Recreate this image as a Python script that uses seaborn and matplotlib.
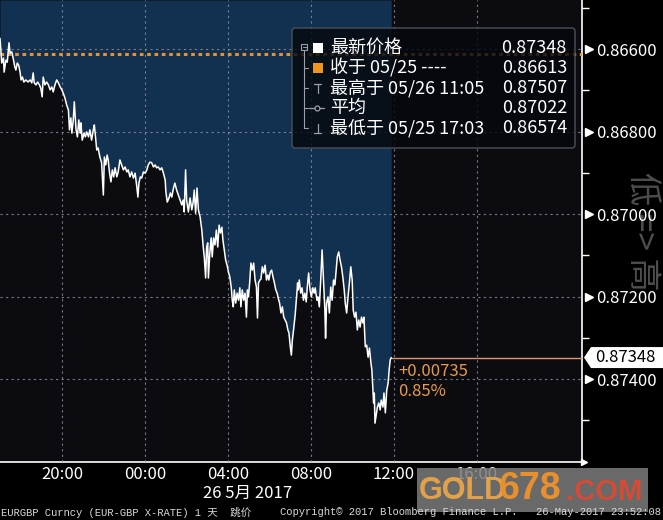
import numpy as np
import pandas as pd
import matplotlib
matplotlib.use("Agg")
import matplotlib.pyplot as plt
import matplotlib.transforms as mtransforms
from matplotlib.patches import FancyBboxPatch, Rectangle, Polygon
from matplotlib.lines import Line2D
import seaborn as sns

# ---------------- data (minutes since 25 May 17:00, EURGBP price) ----------------
minutes = [
    0, 5, 10, 12, 17, 21, 26, 29, 34, 38, 43, 46, 50, 54, 58, 61, 65, 69, 75, 81,
    87, 92, 96, 99, 104, 109, 114, 118, 122, 125, 130, 135, 140, 145, 150, 154, 159, 164, 169, 174,
    179, 183, 188, 193, 198, 201, 205, 208, 212, 215, 220, 224, 228, 232, 234, 238, 243, 247, 251, 256,
    260, 265, 270, 273,
    280, 284, 289, 294, 299, 302, 306, 310, 313, 317, 321, 325, 329, 333, 338, 342, 347, 352, 357, 362,
    367, 371, 376, 381, 386, 391, 396, 399, 402, 406, 410, 415, 420, 425, 429, 434, 439, 444, 449, 453,
    458, 463, 468, 473, 478, 480, 484, 489, 493, 497, 502, 506, 511, 516, 521, 526, 530, 533, 537, 540,
    545, 550, 555, 559, 562, 566, 570, 574, 579,
    584, 588, 591, 595, 598, 601, 603, 607, 611, 614, 618, 622, 626, 630, 634, 638, 642, 645, 649, 653,
    657, 661, 665, 669, 672, 675, 678, 682, 686, 690, 694, 697, 701, 705, 709, 713, 716, 719, 723, 726,
    730, 734, 738, 742, 745, 748, 752, 755, 759, 763, 767, 771, 775, 778, 782, 786, 790, 794, 798, 802,
    805, 809, 813, 817, 821, 825, 829, 833, 836, 840, 843,
    846, 849, 854, 859, 861, 863, 866, 870, 874, 878, 882, 886, 889, 893, 897, 901, 905, 909, 912, 917,
    920, 924, 928, 932, 936, 940, 942, 945, 949, 953, 957, 961, 965, 969, 972, 976, 980, 984, 988, 992,
    996, 999, 1003, 1007, 1011, 1015, 1019, 1022, 1026, 1030, 1034, 1038, 1042, 1046, 1050, 1053, 1057, 1061, 1065, 1069,
    1073, 1076, 1079, 1081, 1083, 1085, 1092, 1096, 1100, 1103, 1108, 1111, 1115, 1119, 1123, 1126, 1129, 1132,
]
prices = [
    0.86574, 0.86634, 0.86622, 0.86656, 0.86627, 0.86632, 0.86585, 0.86610, 0.86607, 0.86622,
    0.86644, 0.86651, 0.86634, 0.86639, 0.86656, 0.86675, 0.86668, 0.86680, 0.86675, 0.86680,
    0.86675, 0.86682, 0.86658, 0.86682, 0.86687, 0.86680, 0.86687, 0.86695, 0.86716, 0.86668,
    0.86687, 0.86680, 0.86687, 0.86699, 0.86692, 0.86704, 0.86687, 0.86675, 0.86682, 0.86692,
    0.86699, 0.86707, 0.86719, 0.86736, 0.86748, 0.86796, 0.86767, 0.86804, 0.86772, 0.86728,
    0.86796, 0.86813, 0.86772, 0.86804, 0.86779, 0.86821, 0.86804, 0.86813, 0.86801, 0.86813,
    0.86796, 0.86821, 0.86796, 0.86784,
    0.86845, 0.86840, 0.86862, 0.86876, 0.86954, 0.86862, 0.86881, 0.86857, 0.86869, 0.86901,
    0.86922, 0.86893, 0.86910, 0.86888, 0.86910, 0.86898, 0.86869, 0.86881, 0.86893, 0.86886,
    0.86898, 0.86893, 0.86910, 0.86898, 0.86913, 0.86901, 0.86935, 0.86959, 0.86925, 0.86910,
    0.86913, 0.86898, 0.86901, 0.86893, 0.86881, 0.86874, 0.86876, 0.86886, 0.86881, 0.86888,
    0.86886, 0.86893, 0.86888, 0.86901, 0.86918, 0.86947, 0.86971, 0.86961, 0.86949, 0.86959,
    0.86937, 0.86925, 0.86942, 0.86954, 0.86966, 0.86978, 0.86966, 0.86995, 0.86893, 0.86966,
    0.86995, 0.86961, 0.86990, 0.86971, 0.86942, 0.86998, 0.86937, 0.86990, 0.87007,
    0.87039, 0.87080, 0.87104, 0.87155, 0.87080, 0.87070, 0.87155, 0.87095, 0.87058, 0.87104,
    0.87058, 0.87075, 0.87039, 0.87080, 0.87027, 0.87046, 0.87032, 0.87063, 0.87087, 0.87112,
    0.87124, 0.87141, 0.87153, 0.87177, 0.87209, 0.87225, 0.87184, 0.87216, 0.87192, 0.87209,
    0.87179, 0.87225, 0.87184, 0.87209, 0.87192, 0.87250, 0.87184, 0.87201, 0.87160, 0.87119,
    0.87136, 0.87119, 0.87160, 0.87177, 0.87252, 0.87167, 0.87160, 0.87158, 0.87128, 0.87143,
    0.87124, 0.87160, 0.87148, 0.87160, 0.87141, 0.87136, 0.87153, 0.87167, 0.87184, 0.87192,
    0.87204, 0.87216, 0.87240, 0.87225, 0.87250, 0.87257, 0.87264, 0.87281, 0.87288, 0.87322,
    0.87342,
    0.87305, 0.87284, 0.87245, 0.87192, 0.87167, 0.87184, 0.87160, 0.87192, 0.87179, 0.87209,
    0.87192, 0.87213, 0.87179, 0.87143, 0.87184, 0.87201, 0.87179, 0.87192, 0.87179, 0.87209,
    0.87201, 0.87225, 0.87160, 0.87087, 0.87160, 0.87233, 0.87301, 0.87216, 0.87201, 0.87240,
    0.87177, 0.87209, 0.87160, 0.87172, 0.87143, 0.87104, 0.87092, 0.87112, 0.87128, 0.87153,
    0.87184, 0.87216, 0.87240, 0.87201, 0.87167, 0.87128, 0.87160, 0.87233, 0.87250, 0.87238,
    0.87281, 0.87257, 0.87274, 0.87250, 0.87264, 0.87250, 0.87322, 0.87318, 0.87347, 0.87325,
    0.87359, 0.87378, 0.87427, 0.87458, 0.87434, 0.87507, 0.87468, 0.87458, 0.87475, 0.87451,
    0.87468, 0.87434, 0.87482, 0.87427, 0.87410, 0.87378, 0.87354, 0.87348,
]

x_tick_minutes = [180, 420, 660, 900, 1140, 1380]
x_tick_labels = ["20:00", "00:00", "04:00", "08:00", "12:00", "16:00"]
x_minor_minutes = [60, 300, 540, 780, 1020, 1260, 1500]
y_ticks = [0.866, 0.868, 0.870, 0.872, 0.874]
y_tick_labels = ["0.86600", "0.86800", "0.87000", "0.87200", "0.87400"]
y_minor = [0.865, 0.867, 0.869, 0.871, 0.873, 0.875]

legend_labels = ["最新价格", "收于 05/25 ----", "最高于 05/26 11:05", "平均", "最低于 05/25 17:03"]
legend_values = [0.87348, 0.86613, 0.87507, 0.87022, 0.86574]
close_prev = 0.86613
date_label = "26 5月 2017"
footer_left = "EURGBP Curncy (EUR-GBP X-RATE) 1 天  跳价"
footer_mid = "Copyright© 2017 Bloomberg Finance L.P."
footer_right = "26-May-2017 23:52:08"

# ---------------- style ----------------
sns.set_theme(style="dark")
plt.rcParams['font.family'] = ['Noto Sans CJK SC', 'DejaVu Sans']
plt.rcParams['axes.unicode_minus'] = False

W, H = 663, 520
fig = plt.figure(figsize=(W / 100, H / 100), dpi=100, facecolor='black')
ax = fig.add_axes([0, 58 / H, 582 / W, 462 / H])
ax.set_facecolor('#0c0c10')

df = pd.DataFrame({"minute": minutes, "price": prices})

y_top, y_bot = 0.864812, 0.876012
ax.set_xlim(0, 1684)
ax.set_ylim(y_bot, y_top)

ax.fill_between(df["minute"], df["price"], y_top, color='#12304f', lw=0, zorder=1)
sns.lineplot(data=df, x="minute", y="price", color='white', lw=1.1, ax=ax, zorder=4)

# grid
ax.set_axisbelow(False)
ax.grid(True, which='major', color='#8d96a3', ls=(0, (2, 3)), lw=0.8, alpha=0.8)

# previous close dotted line
ax.axhline(close_prev, color='#e8922e', ls=(0, (1.2, 1.2)), lw=2.2, zorder=3)

# last price line + change text
last_m, last_p = df["minute"].iloc[-1], df["price"].iloc[-1]
ax.hlines(last_p, last_m, 1684, color='#e9916b', lw=1, zorder=3)
chg = last_p - close_prev
pct = chg / close_prev * 100
ax.annotate(f"{chg:+.5f}", xy=(last_m, last_p), xytext=(5, -4), textcoords='offset points',
            ha='left', va='top', color='#e89a4c', fontsize=12)
ax.annotate(f"{pct:.2f}%", xy=(last_m, last_p), xytext=(5, -18), textcoords='offset points',
            ha='left', va='top', color='#e89a4c', fontsize=12)

# axes / ticks
ax.set_xlabel("")
ax.set_ylabel("")
ax.yaxis.tick_right()
ax.set_yticks(y_ticks, y_tick_labels)
ax.set_yticks(y_minor, minor=True)
ax.set_xticks(x_tick_minutes, x_tick_labels)
ax.set_xticks(x_minor_minutes, minor=True)
ax.tick_params(axis='y', which='major', length=0, pad=10, labelcolor='white', labelsize=12)
ax.tick_params(axis='y', which='minor', length=5, width=1, color='white', direction='out')
ax.tick_params(axis='x', which='major', length=0, pad=3, labelcolor='white', labelsize=12)
ax.tick_params(axis='x', which='minor', length=5, width=1, color='white', direction='out')
for s in ['top', 'left']:
    ax.spines[s].set_visible(False)
for s in ['bottom', 'right']:
    ax.spines[s].set_visible(True)
    ax.spines[s].set_color('white')
    ax.spines[s].set_linewidth(1.2)

blend = mtransforms.blended_transform_factory(ax.transAxes, ax.transData)
ax.plot([1.012] * len(y_ticks), y_ticks, transform=blend, marker='>', ms=6, color='white',
        ls='none', clip_on=False, zorder=5)

# faint vertical hint on right
fig.text(642 / W, 1 - 231 / H, "低 => 高", rotation=-90, ha='center', va='center',
         fontsize=24, color='#4e4e4e', zorder=-1)

# ---------------- overlay (legend, footer, watermark) ----------------
ov = fig.add_axes([0, 0, 1, 1], zorder=10)
ov.set_xlim(0, W)
ov.set_ylim(H, 0)
ov.axis('off')

# last price tag on the right axis (y position from the price axis transform)
y_last_px = H - ax.transData.transform((0, last_p))[1]
ov.add_patch(Polygon([(584, y_last_px), (591, y_last_px - 10.5), (663, y_last_px - 10.5),
                      (663, y_last_px + 10.5), (591, y_last_px + 10.5)],
                     closed=True, fc='white', ec='none'))
ov.text(595, y_last_px, f"{last_p:.5f}", ha='left', va='center', fontsize=12, color='black')

ov.add_patch(FancyBboxPatch((292, 28), 283, 120, boxstyle='round,pad=0,rounding_size=3',
                            fc=(0.02, 0.03, 0.05, 0.82), ec='#4b5058', lw=1))
rows = [48, 68, 88, 108, 128]
for lab, val, yy in zip(legend_labels, legend_values, rows):
    ov.text(330, yy, lab, ha='left', va='center', fontsize=13, color='white')
    ov.text(567, yy, f"{val:.5f}", ha='right', va='center', fontsize=13, color='white')

tc = '#9aa0a8'
ov.add_patch(Rectangle((301, 44), 6, 6, fc='none', ec=tc, lw=0.8))
ov.add_line(Line2D([302.5, 305.5], [47, 47], color=tc, lw=0.8))
ov.add_line(Line2D([304, 304], [50, 128], color=tc, lw=0.8))
for yy in rows[1:]:
    ov.add_line(Line2D([304, 308], [yy, yy], color=tc, lw=0.8))
ov.add_patch(Rectangle((313, 43), 10, 10, fc='white', ec='none'))
ov.add_patch(Rectangle((313, 63), 10, 10, fc='#f0961e', ec='none'))
ov.add_line(Line2D([314, 321], [84, 84], color=tc, lw=0.9))
ov.add_line(Line2D([317.5, 317.5], [84, 93], color=tc, lw=0.9))
ov.add_line(Line2D([309, 324], [108, 108], color=tc, lw=0.9))
ov.plot([317], [108], marker='o', ms=3.5, mfc='#0c0c10', mec=tc, mew=0.9)
ov.add_line(Line2D([317.5, 317.5], [124, 133], color=tc, lw=0.9))
ov.add_line(Line2D([314, 321], [133, 133], color=tc, lw=0.9))

# x axis arrow tip
ov.plot([584], [462], marker='>', ms=4, color='white')

ov.text(248, 493, date_label, ha='center', va='center', fontsize=12, color='white')

ff = ['Liberation Mono', 'Noto Sans CJK SC']
ov.text(1, 512, footer_left, ha='left', va='center', fontsize=7.6, color='#d8d8d8', family=ff)
ov.text(280, 512, footer_mid, ha='left', va='center', fontsize=7.6, color='#d8d8d8', family=ff)
ov.text(661, 512, footer_right, ha='right', va='center', fontsize=7.6, color='#d8d8d8', family=ff)

# watermark
ov.add_patch(Rectangle((417, 468), 231, 44, fc='#7c7c7c', ec='none', alpha=0.85))
wf = ['Liberation Sans', 'DejaVu Sans']
ov.text(419, 491, "GOLD", ha='left', va='center', fontsize=22, fontweight='bold', color='#e2a24a', family=wf)
ov.text(499, 489, "678", ha='left', va='center', fontsize=27, fontweight='bold', color='#e8902e', family=wf)
ov.text(566, 492, ".COM", ha='left', va='center', fontsize=21, fontweight='bold', color='#d64a36', family=wf)

fig.savefig("out.png", dpi=100, facecolor=fig.get_facecolor())
